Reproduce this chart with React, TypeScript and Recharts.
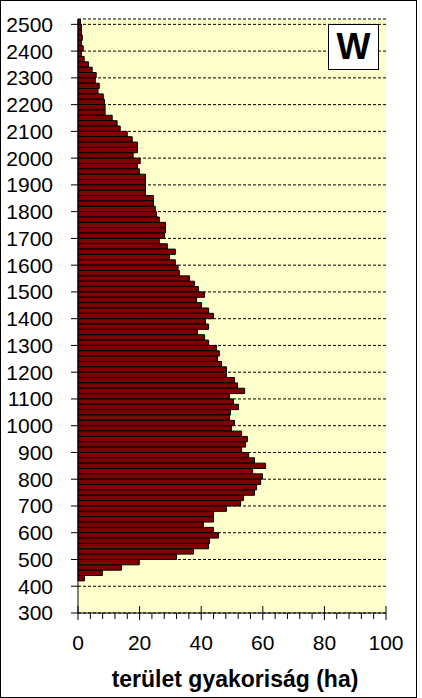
import { BarChart, Bar, XAxis, YAxis, CartesianGrid } from "recharts";

// 20-wide bins, lower bound, listed from the top of the chart down
const binStarts = [
  2500, 2480, 2460, 2440, 2420, 2400, 2380, 2360, 2340, 2320,
  2300, 2280, 2260, 2240, 2220, 2200, 2180, 2160, 2140, 2120,
  2100, 2080, 2060, 2040, 2020, 2000, 1980, 1960, 1940, 1920,
  1900, 1880, 1860, 1840, 1820, 1800, 1780, 1760, 1740, 1720,
  1700, 1680, 1660, 1640, 1620, 1600, 1580, 1560, 1540, 1520,
  1500, 1480, 1460, 1440, 1420, 1400, 1380, 1360, 1340, 1320,
  1300, 1280, 1260, 1240, 1220, 1200, 1180, 1160, 1140, 1120,
  1100, 1080, 1060, 1040, 1020, 1000, 980, 960, 940, 920,
  900, 880, 860, 840, 820, 800, 780, 760, 740, 720,
  700, 680, 660, 640, 620, 600, 580, 560, 540, 520,
  500, 480, 460, 440, 420, 400, 380, 360, 340, 320,
  300,
];
const BIN = 20;

// terület gyakoriság (ha) per bin
const freq = [
  0.8, 1.1, 1.1, 1.4, 1.1, 1.7, 1.1, 2.0, 3.4, 4.6,
  5.9, 5.6, 6.9, 6.5, 8.2, 8.6, 8.8, 8.8, 11.1, 12.7,
  13.7, 16.0, 17.6, 19.3, 19.3, 17.9, 20.2, 19.3, 19.9, 21.9,
  21.9, 21.9, 21.9, 24.5, 24.5, 25.1, 25.5, 26.4, 28.4, 28.4,
  28.1, 26.4, 29.0, 31.6, 29.7, 31.6, 32.5, 32.9, 36.2, 37.8,
  39.1, 41.1, 38.5, 40.1, 42.4, 44.0, 41.4, 42.4, 38.8, 41.1,
  42.4, 45.0, 45.9, 45.3, 46.6, 48.2, 48.2, 50.8, 51.8, 54.1,
  49.2, 50.5, 52.1, 49.5, 49.2, 50.8, 49.8, 53.1, 55.0, 54.4,
  53.1, 55.4, 57.3, 60.9, 56.7, 59.9, 59.3, 58.0, 57.3, 53.7,
  52.8, 48.2, 44.0, 44.0, 40.7, 44.0, 45.6, 42.7, 42.4, 37.5,
  32.0, 19.9, 14.1, 7.9, 2.1, null, null, null, null, null,
  null,
];

const yTicks = [
  300, 400, 500, 600, 700, 800, 900, 1000, 1100, 1200, 1300, 1400,
  1500, 1600, 1700, 1800, 1900, 2000, 2100, 2200, 2300, 2400, 2500,
];
const xTicks = [
  0, 4, 8, 12, 16, 20, 24, 28, 32, 36, 40, 44, 48, 52, 56, 60, 64, 68,
  72, 76, 80, 84, 88, 92, 96, 100,
];
const xLabels = [0, 20, 40, 60, 80, 100];

// bar sits on the middle of its bin
const data = binStarts.map((b, i) => ({ mid: b + BIN / 2, freq: freq[i] }));

const FONT = "'Liberation Sans', Arial, sans-serif";

function XTick({ x, y, payload }: any) {
  const v = payload.value;
  const major = xLabels.includes(v);
  return (
    <g>
      <line
        x1={x}
        x2={x}
        y1={major ? y - 7 : y}
        y2={y + (major ? 7 : 6)}
        stroke="#000"
        strokeWidth={1}
      />
      {major && (
        <text x={x} y={y + 37} textAnchor="middle" fontSize={21} fontFamily={FONT} fill="#000">
          {v}
        </text>
      )}
    </g>
  );
}

function AxisTitle({ viewBox }: any) {
  return (
    <text
      x={viewBox.x + viewBox.width / 2 + 3}
      y={viewBox.y + 74}
      textAnchor="middle"
      fontSize={23}
      fontWeight="bold"
      fontFamily={FONT}
      fill="#000"
    >
      terület gyakoriság (ha)
    </text>
  );
}

export default function App() {
  return (
    <div
      style={{
        position: "absolute",
        left: 0,
        top: 0,
        width: 422,
        height: 698,
        background: "#fff",
        fontFamily: FONT,
      }}
    >
      <div
        style={{
          position: "absolute",
          left: 0,
          top: 0,
          width: 417,
          height: 698,
          border: "1px solid #000",
          boxSizing: "border-box",
        }}
      />
      <BarChart
        width={422}
        height={698}
        data={data}
        layout="vertical"
        barCategoryGap={0}
        barGap={0}
        margin={{ top: 19, right: 36, bottom: 55, left: 0 }}
      >
        <CartesianGrid
          vertical={false}
          stroke="#000"
          strokeDasharray="3 2"
          fill="#FFFFCC"
        />
        <XAxis
          type="number"
          domain={[0, 100]}
          ticks={xTicks}
          interval={0}
          height={30}
          tickSize={0}
          tickMargin={0}
          tickLine={false}
          axisLine={{ stroke: "#000" }}
          tick={<XTick />}
          label={<AxisTitle />}
        />
        <XAxis
          xAxisId="top"
          orientation="top"
          type="number"
          domain={[0, 100]}
          height={0}
          tick={false}
          tickLine={false}
          axisLine={{ stroke: "#808080" }}
        />
        <YAxis
          type="number"
          dataKey="mid"
          domain={[300, 2520]}
          allowDataOverflow
          reversed
          ticks={yTicks}
          interval={0}
          width={78}
          tickSize={7}
          tickMargin={18}
          tickLine={{ stroke: "#000" }}
          axisLine={{ stroke: "#000" }}
          tick={{ fill: "#000", fontSize: 21, fontFamily: FONT }}
        />
        <YAxis
          yAxisId="right"
          orientation="right"
          type="number"
          domain={[0, 1]}
          width={0}
          tick={false}
          tickLine={false}
          axisLine={{ stroke: "#808080" }}
        />
        <Bar
          dataKey="freq"
          barSize={5.34}
          fill="#800000"
          stroke="#000"
          strokeWidth={1}
          isAnimationActive={false}
        />
      </BarChart>
      <div
        style={{
          position: "absolute",
          left: 328,
          top: 24,
          width: 51,
          height: 46,
          border: "1px solid #000",
          boxSizing: "border-box",
          background: "#fff",
          display: "flex",
          alignItems: "center",
          justifyContent: "center",
          fontSize: 36,
          fontWeight: "bold",
          lineHeight: 1,
        }}
      >
        W
      </div>
    </div>
  );
}
